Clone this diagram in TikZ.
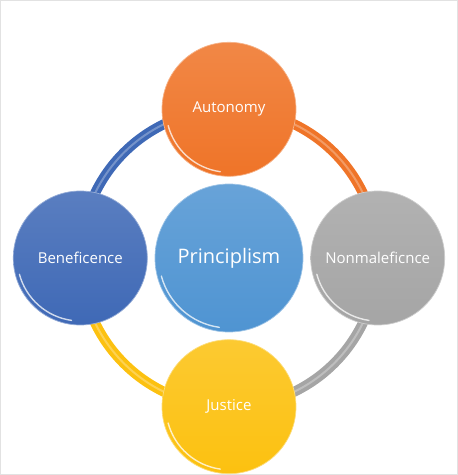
\documentclass[tikz,border=0pt]{standalone}
\usepackage{fontspec}
\setmainfont{Open Sans}
\usetikzlibrary{positioning,backgrounds}
\definecolor{autcol}{HTML}{EF7428}
\definecolor{bencol}{HTML}{3F69B6}
\definecolor{noncol}{HTML}{A5A5A5}
\definecolor{juscol}{HTML}{FCC110}
\definecolor{pricol}{HTML}{4F94D2}
\definecolor{framegray}{HTML}{E2E2E2}
\newcommand{\glossarc}[1]{\draw[white,opacity=.75,line width=1.4pt,line cap=round] (path picture bounding box.center) ++(195:#1pt) arc[start angle=195,end angle=262,radius=#1pt];}

\begin{document}
\begin{tikzpicture}[x=1pt,y=1pt,node distance=7pt,
  ball/.style={circle,inner sep=0pt,minimum size=134pt,top color=#1!86!white,bottom color=#1,draw=#1!55!white,line width=0.7pt,text=white,font=\fontsize{15}{18}\selectfont,path picture={\glossarc{63}}},
  hub/.style={ball=#1,minimum size=148pt,font=\fontsize{20}{24}\selectfont,path picture={\glossarc{70}}},
  band/.style={line width=10pt,draw=#1},
  shine/.style={line width=2pt,draw=#1!72!white}]
\useasboundingbox (0,0) rectangle (458,475);
\draw[framegray,line width=1pt] (0.5,0.5) rectangle (457.5,474.5);
% centre and the four principles
\node[hub=pricol] (pri) at (229,217) {Principlism};
\node[ball=autcol,above=of pri] (aut) {Autonomy};
\node[ball=bencol,left=of pri] (ben) {Beneficence};
\node[ball=noncol,right=of pri] (non) {Nonmaleficnce};
\node[ball=juscol,below=of pri] (jus) {Justice};
% ring behind the circles
\begin{pgfonlayer}{background}
\draw[band=bencol] (ben.center) to[out=90,in=180] (aut.center);
\draw[band=autcol] (aut.center) to[out=0,in=90] (non.center);
\draw[band=noncol] (non.center) to[out=-90,in=0] (jus.center);
\draw[band=juscol] (jus.center) to[out=180,in=-90] (ben.center);
\draw[shine=bencol] (ben.center) to[out=90,in=180] (aut.center);
\draw[shine=autcol] (aut.center) to[out=0,in=90] (non.center);
\draw[shine=noncol] (non.center) to[out=-90,in=0] (jus.center);
\draw[shine=juscol] (jus.center) to[out=180,in=-90] (ben.center);
\end{pgfonlayer}
\end{tikzpicture}
\end{document}
